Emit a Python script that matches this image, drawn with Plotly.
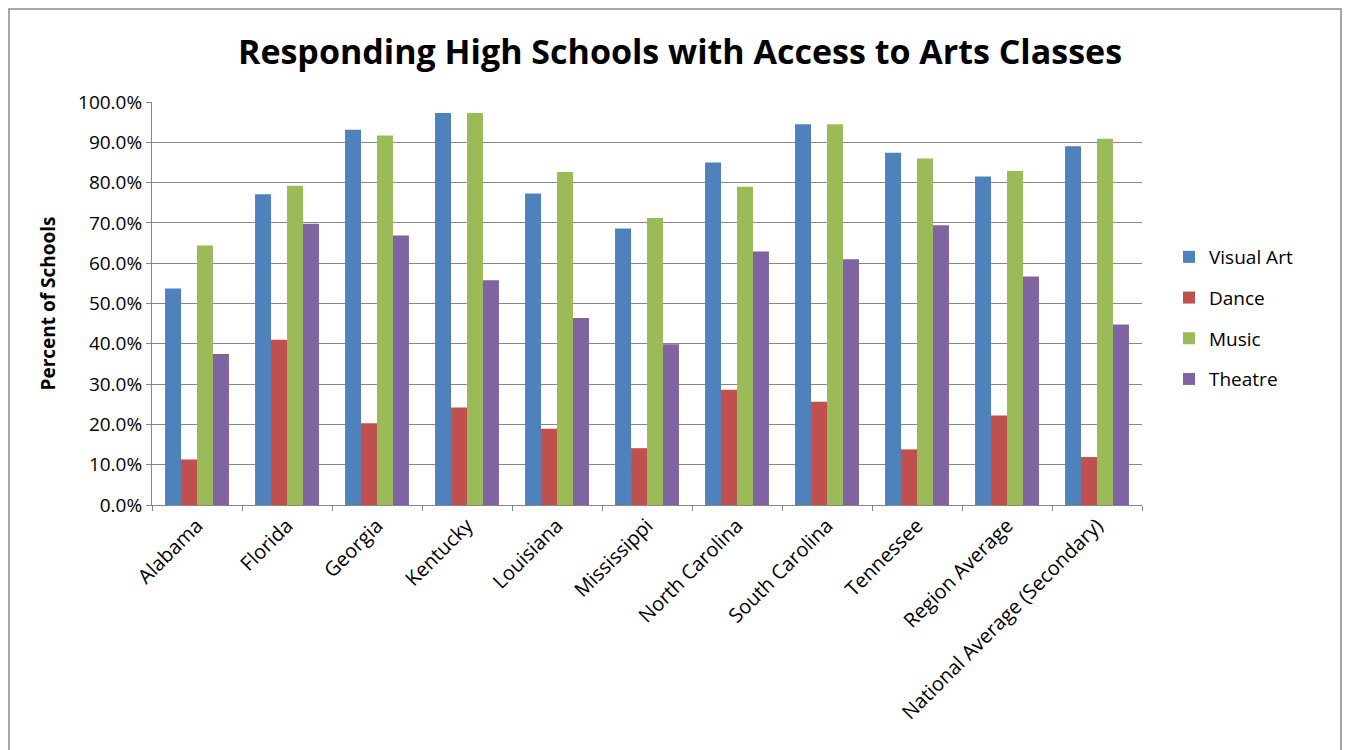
import plotly.graph_objects as go

categories = ["Alabama", "Florida", "Georgia", "Kentucky", "Louisiana", "Mississippi",
              "North Carolina", "South Carolina", "Tennessee", "Region Average",
              "National Average (Secondary)"]
visual_art = [53.7, 77.1, 93.1, 97.3, 77.3, 68.6, 85.0, 94.5, 87.4, 81.5, 89.0]
dance = [11.3, 41.0, 20.3, 24.2, 18.9, 14.1, 28.6, 25.6, 13.8, 22.2, 11.9]
music = [64.4, 79.2, 91.7, 97.3, 82.6, 71.2, 79.0, 94.5, 86.0, 82.9, 90.9]
theatre = [37.5, 69.8, 66.9, 55.8, 46.4, 39.9, 62.9, 61.0, 69.4, 56.7, 44.8]

series = [("Visual Art", visual_art, "#4F81BD"),
          ("Dance", dance, "#C0504D"),
          ("Music", music, "#9BBB59"),
          ("Theatre", theatre, "#8064A2")]

FONT = "Open Sans"
OFF = 8  # page body margin

fig = go.Figure()
for name, vals, color in series:
    fig.add_trace(go.Bar(name=name, x=categories, y=vals, legendgroup=name,
                         marker=dict(color=color, line=dict(width=0))))

W, H = 1351 - OFF, 750 - OFF
# plot area in page pixel coords
PL, PR, PT, PB = 152, 1142, 102, 505
L, R, T, B = PL - OFF, PR - OFF, PT - OFF, PB - OFF

def px_x(x):
    return (x - OFF - L) / (R - L)

def px_y(y):
    return (B - (y - OFF)) / (B - T)

fig.update_layout(
    width=W, height=H,
    margin=dict(l=L, r=W - R, t=T, b=H - B),
    paper_bgcolor="white", plot_bgcolor="white",
    barmode="group", bargap=0.29, bargroupgap=0,
    font=dict(family=FONT, color="#000000", size=19),
    title=dict(text="<b>Responding High Schools with Access to Arts Classes</b>",
               x=px_x(680), xref="paper", xanchor="center",
               y=1 - (52 - OFF) / H, yanchor="middle",
               font=dict(family=FONT, size=34, color="#000000")),
    showlegend=True,
    legend=dict(x=px_x(1169), xanchor="left", y=px_y(238), yanchor="top",
                font=dict(family=FONT, size=19, color="#000000"), tracegroupgap=13,
                itemwidth=30, bgcolor="rgba(0,0,0,0)", traceorder="grouped"),
    xaxis=dict(type="category", showgrid=False, showline=True, linecolor="#868686",
               linewidth=1, ticks="outside", tickson="boundaries", ticklen=5,
               tickcolor="#868686", tickangle=-45,
               tickfont=dict(family=FONT, size=20, color="#000000")),
    yaxis=dict(range=[0, 100], dtick=10, tick0=0, tickformat=".1f", ticksuffix="%",
               showgrid=True, gridcolor="#868686", gridwidth=1,
               showline=True, linecolor="#868686", linewidth=1,
               ticks="outside", ticklen=5, tickcolor="#868686",
               tickfont=dict(family=FONT, size=19, color="#000000"), zeroline=False,
               title=dict(text="<b>Percent of Schools</b>", standoff=17,
                          font=dict(family=FONT, size=19, color="#000000"))),
    shapes=[dict(type="rect", xref="paper", yref="paper",
                 x0=px_x(9), x1=px_x(1341), y0=px_y(780), y1=px_y(9),
                 line=dict(color="#8c8c8c", width=1.5), fillcolor="rgba(0,0,0,0)",
                 layer="below")],
)

fig.write_html("out.html")
